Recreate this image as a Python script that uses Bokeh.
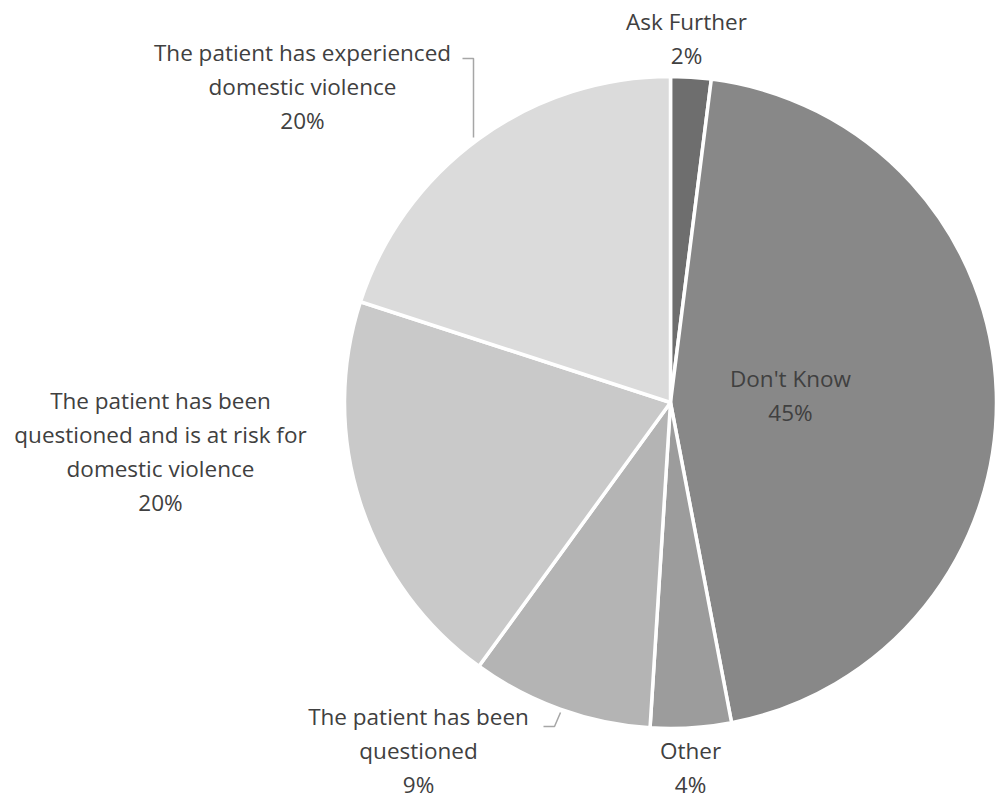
import math
from bokeh.plotting import figure
from bokeh.models import ColumnDataSource, Range1d
from bokeh.core.properties import value
from bokeh.embed import file_html
from bokeh.resources import INLINE

# Survey responses (percent), clockwise from 12 o'clock
categories = [
    "Ask Further",
    "Don't Know",
    "Other",
    "The patient has been questioned",
    "The patient has been questioned and is at risk for domestic violence",
    "The patient has experienced domestic violence",
]
percents = [2, 45, 4, 9, 20, 20]
pct_labels = ["2%", "45%", "4%", "9%", "20%", "20%"]
label_lines = [
    ["Ask Further"],
    ["Don't Know"],
    ["Other"],
    ["The patient has been", "questioned"],
    ["The patient has been", "questioned and is at risk for", "domestic violence"],
    ["The patient has experienced", "domestic violence"],
]
colors = ["#6e6e6e", "#888888", "#9c9c9c", "#b4b4b4", "#c9c9c9", "#dbdbdb"]

W, H = 999, 800
CX, CY, R = 670, 800 - 402, 326
FONT = "Open Sans"
TXT = "#404040"

total = float(sum(percents))
starts, ends = [], []
acc = 0.0
for v in percents:
    a0 = math.pi / 2 - 2 * math.pi * (acc + v) / total
    a1 = math.pi / 2 - 2 * math.pi * acc / total
    starts.append(a0)
    ends.append(a1)
    acc += v

src = ColumnDataSource(dict(cat=categories, pct=percents, start=starts, end=ends, color=colors))

p = figure(width=W, height=H, x_range=Range1d(0, W), y_range=Range1d(0, H),
           output_backend="svg", toolbar_location=None, min_border=0)
p.axis.visible = False
p.grid.visible = False
p.outline_line_color = None
p.background_fill_color = "white"

p.wedge(x=CX, y=CY, radius=R, start_angle="start", end_angle="end",
        fill_color="color", line_color="white", line_width=3.5, source=src)

# label anchor points (centre of the text block, first line y from top)
anchors = [
    (686, 21),
    (790, 378),
    (690, 750),
    (418, 716),
    (160, 400),
    (302, 52),
]
LH = 34
xs, ys, ts = [], [], []
for (ax, ay), lines, pl in zip(anchors, label_lines, pct_labels):
    for i, t in enumerate(lines + [pl]):
        xs.append(ax)
        ys.append(H - (ay + i * LH))
        ts.append(t)
p.text(x=xs, y=ys, text=ts, text_align="center", text_baseline="middle",
       text_font=value(FONT), text_font_size="22.5px", text_color=TXT)

# leader lines
p.line(x=[462, 473, 473], y=[H - 58, H - 58, H - 137], line_color="#a6a6a6", line_width=1.5)
p.line(x=[543, 554, 560], y=[H - 726, H - 726, H - 712], line_color="#a6a6a6", line_width=1.5)

open("out.html", "w").write(file_html(p, INLINE))
